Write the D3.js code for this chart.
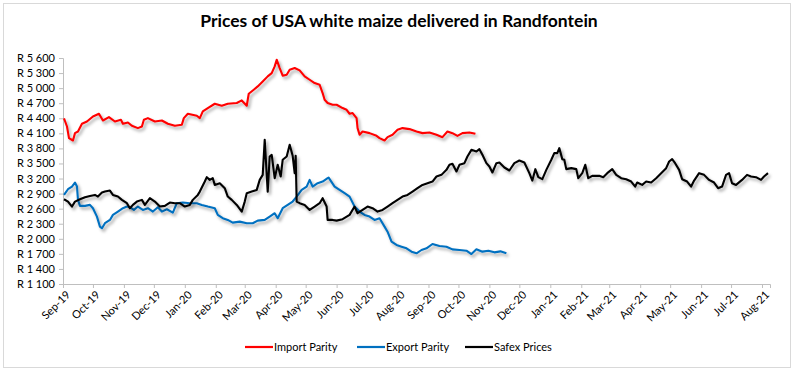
<!DOCTYPE html>
<html><head><meta charset="utf-8">
<script src="https://cdn.jsdelivr.net/npm/d3@7"></script>
<style>
html,body{margin:0;padding:0;background:#fff;}
text{font-family:Lato,"Open Sans",sans-serif;}
</style></head>
<body>
<svg id="chart" width="798" height="375"></svg>
<script>
const title = "Prices of USA white maize delivered in Randfontein";
const seriesNames = ["Import Parity", "Export Parity", "Safex Prices"];
const seriesColors = ["#FF0000", "#0070C0", "#000000"];
const yTicks = [1100,1400,1700,2000,2300,2600,2900,3200,3500,3800,4100,4400,4700,5000,5300,5600];

const importParity = [
["2019-09-02",4398],["2019-09-05",4236],["2019-09-07",4005],["2019-09-11",3957],["2019-09-13",4104],
["2019-09-16",4136],["2019-09-20",4290],["2019-09-25",4336],["2019-10-01",4436],["2019-10-07",4490],
["2019-10-11",4356],["2019-10-17",4423],["2019-10-23",4336],["2019-10-29",4370],["2019-10-31",4290],
["2019-11-05",4316],["2019-11-09",4250],["2019-11-15",4204],["2019-11-19",4236],["2019-11-21",4370],
["2019-11-25",4403],["2019-12-02",4336],["2019-12-09",4356],["2019-12-15",4290],["2019-12-22",4250],
["2019-12-29",4270],["2019-12-31",4403],["2020-01-04",4490],["2020-01-13",4450],["2020-01-16",4403],
["2020-01-19",4536],["2020-01-24",4603],["2020-01-31",4689],["2020-02-07",4649],["2020-02-13",4689],
["2020-02-22",4703],["2020-02-27",4755],["2020-03-03",4649],["2020-03-05",4888],["2020-03-10",4968],
["2020-03-14",5034],["2020-03-19",5134],["2020-03-24",5234],["2020-03-28",5300],["2020-03-31",5433],
["2020-04-02",5566],["2020-04-05",5400],["2020-04-08",5247],["2020-04-12",5267],["2020-04-15",5367],
["2020-04-20",5400],["2020-04-25",5353],["2020-04-30",5234],["2020-05-05",5167],["2020-05-10",5101],
["2020-05-15",5067],["2020-05-18",4902],["2020-05-20",4768],["2020-05-23",4703],["2020-05-28",4669],
["2020-06-01",4669],["2020-06-07",4603],["2020-06-11",4569],["2020-06-14",4490],["2020-06-17",4503],
["2020-06-21",4403],["2020-06-22",4204],["2020-06-24",4071],["2020-06-27",4136],["2020-07-04",4104],
["2020-07-11",4050],["2020-07-14",4005],["2020-07-19",3957],["2020-07-22",4024],["2020-07-27",4071],
["2020-08-01",4170],["2020-08-06",4204],["2020-08-13",4184],["2020-08-20",4136],["2020-08-26",4104],
["2020-09-02",4117],["2020-09-09",4071],["2020-09-15",4024],["2020-09-20",4136],["2020-09-25",4104],
["2020-09-30",4050],["2020-10-05",4104],["2020-10-12",4117],["2020-10-18",4090]
];

const exportParity = [
["2019-09-02",2874],["2019-09-06",2987],["2019-09-10",3040],["2019-09-13",3120],["2019-09-15",3040],
["2019-09-16",2774],["2019-09-18",2655],["2019-09-23",2655],["2019-09-28",2675],["2019-10-01",2609],
["2019-10-05",2441],["2019-10-08",2242],["2019-10-10",2210],["2019-10-13",2310],["2019-10-18",2376],
["2019-10-21",2476],["2019-10-26",2542],["2019-10-31",2609],["2019-11-04",2642],["2019-11-07",2629],
["2019-11-11",2575],["2019-11-15",2642],["2019-11-20",2575],["2019-11-25",2609],["2019-11-30",2542],
["2019-12-05",2629],["2019-12-09",2542],["2019-12-14",2589],["2019-12-20",2522],["2019-12-24",2709],
["2019-12-30",2722],["2020-01-06",2709],["2020-01-13",2709],["2020-01-18",2675],["2020-01-24",2642],
["2020-01-31",2609],["2020-02-03",2476],["2020-02-08",2410],["2020-02-13",2376],["2020-02-18",2322],
["2020-02-25",2342],["2020-03-03",2310],["2020-03-09",2310],["2020-03-14",2362],["2020-03-21",2376],
["2020-03-26",2442],["2020-03-31",2509],["2020-04-03",2410],["2020-04-08",2609],["2020-04-13",2675],
["2020-04-18",2742],["2020-04-22",2840],["2020-04-27",2974],["2020-05-02",3040],["2020-05-05",3173],
["2020-05-08",3040],["2020-05-13",3107],["2020-05-18",3140],["2020-05-23",3207],["2020-05-24",3219],
["2020-05-30",3040],["2020-06-04",2974],["2020-06-09",2908],["2020-06-14",2840],["2020-06-19",2642],
["2020-06-24",2542],["2020-06-29",2476],["2020-07-04",2442],["2020-07-09",2376],["2020-07-14",2410],
["2020-07-19",2242],["2020-07-22",2142],["2020-07-26",1943],["2020-07-31",1877],["2020-08-05",1843],
["2020-08-10",1810],["2020-08-15",1744],["2020-08-20",1711],["2020-08-25",1777],["2020-08-30",1810],
["2020-09-05",1896],["2020-09-12",1856],["2020-09-19",1843],["2020-09-25",1790],["2020-10-02",1777],
["2020-10-09",1763],["2020-10-14",1697],["2020-10-19",1790],["2020-10-25",1744],["2020-10-31",1763],
["2020-11-06",1730],["2020-11-12",1750],["2020-11-18",1710]
];

const safexPrices = [
["2019-09-02",2788],["2019-09-06",2741],["2019-09-10",2642],["2019-09-13",2741],["2019-09-18",2788],
["2019-09-23",2828],["2019-09-28",2854],["2019-10-03",2874],["2019-10-06",2841],["2019-10-10",2920],
["2019-10-13",2940],["2019-10-18",2960],["2019-10-21",2874],["2019-10-26",2841],["2019-10-30",2775],
["2019-11-04",2709],["2019-11-07",2609],["2019-11-10",2675],["2019-11-14",2741],["2019-11-19",2775],
["2019-11-22",2675],["2019-11-27",2808],["2019-12-02",2741],["2019-12-07",2642],["2019-12-12",2655],
["2019-12-17",2722],["2019-12-22",2709],["2019-12-27",2709],["2020-01-01",2642],["2020-01-06",2675],
["2020-01-09",2775],["2020-01-14",2874],["2020-01-16",2940],["2020-01-21",3140],["2020-01-23",3227],
["2020-01-26",3173],["2020-01-29",3207],["2020-01-31",3073],["2020-02-05",3107],["2020-02-10",3007],
["2020-02-13",2841],["2020-02-17",2775],["2020-02-22",2675],["2020-02-27",2542],["2020-03-01",2741],
["2020-03-03",2908],["2020-03-08",2940],["2020-03-13",2974],["2020-03-16",3173],["2020-03-19",3273],
["2020-03-21",3971],["2020-03-24",2940],["2020-03-26",3638],["2020-03-28",3672],["2020-03-31",3207],
["2020-04-03",3473],["2020-04-06",3240],["2020-04-08",3573],["2020-04-12",3638],["2020-04-15",3871],
["2020-04-18",3652],["2020-04-20",3307],["2020-04-21",3652],["2020-04-22",2741],["2020-04-25",2709],
["2020-04-30",2675],["2020-05-05",2575],["2020-05-10",2642],["2020-05-15",2709],["2020-05-18",2808],
["2020-05-22",2642],["2020-05-23",2376],["2020-05-28",2376],["2020-06-01",2362],["2020-06-07",2390],
["2020-06-14",2476],["2020-06-19",2642],["2020-06-22",2509],["2020-06-27",2575],["2020-07-02",2642],
["2020-07-07",2609],["2020-07-12",2542],["2020-07-17",2575],["2020-07-22",2642],["2020-07-27",2709],
["2020-08-01",2775],["2020-08-06",2841],["2020-08-11",2874],["2020-08-16",2940],["2020-08-21",3007],
["2020-08-26",3073],["2020-08-31",3107],["2020-09-05",3140],["2020-09-09",3240],["2020-09-14",3273],
["2020-09-19",3373],["2020-09-22",3473],["2020-09-25",3493],["2020-09-29",3340],["2020-10-02",3473],
["2020-10-07",3506],["2020-10-10",3638],["2020-10-14",3771],["2020-10-19",3738],["2020-10-22",3785],
["2020-10-25",3672],["2020-10-29",3506],["2020-11-01",3440],["2020-11-04",3320],["2020-11-08",3506],
["2020-11-11",3519],["2020-11-16",3420],["2020-11-21",3360],["2020-11-26",3506],["2020-12-01",3559],
["2020-12-06",3519],["2020-12-11",3307],["2020-12-14",3160],["2020-12-17",3387],["2020-12-20",3227],
["2020-12-24",3187],["2020-12-28",3373],["2021-01-02",3573],["2021-01-05",3706],["2021-01-08",3706],
["2021-01-10",3805],["2021-01-13",3586],["2021-01-15",3573],["2021-01-17",3387],["2021-01-22",3407],
["2021-01-27",3387],["2021-01-29",3207],["2021-02-02",3307],["2021-02-05",3473],["2021-02-08",3207],
["2021-02-12",3253],["2021-02-19",3253],["2021-02-23",3227],["2021-02-27",3307],["2021-03-04",3387],
["2021-03-08",3273],["2021-03-13",3207],["2021-03-18",3187],["2021-03-23",3140],["2021-03-27",3040],
["2021-03-29",3120],["2021-04-03",3073],["2021-04-07",3140],["2021-04-12",3120],["2021-04-17",3207],
["2021-04-22",3307],["2021-04-27",3407],["2021-04-30",3539],["2021-05-03",3586],["2021-05-06",3506],
["2021-05-10",3373],["2021-05-13",3187],["2021-05-18",3140],["2021-05-22",3040],["2021-05-25",3160],
["2021-05-30",3307],["2021-06-04",3273],["2021-06-09",3173],["2021-06-14",3120],["2021-06-18",3007],
["2021-06-22",3040],["2021-06-26",3273],["2021-06-29",3307],["2021-07-02",3107],["2021-07-06",3073],
["2021-07-12",3173],["2021-07-17",3273],["2021-07-21",3240],["2021-07-26",3227],["2021-07-31",3173],
["2021-08-03",3240],["2021-08-07",3307]
];

const parse = d3.timeParse("%Y-%m-%d");
const allSeries = [importParity, exportParity, safexPrices].map((s, i) => ({
  name: seriesNames[i], color: seriesColors[i],
  values: s.map(d => ({date: parse(d[0]), value: d[1]}))
}));

const svg = d3.select("#chart");
const W = 798, H = 375;
const m = {left: 63, right: 28, top: 58, bottom: 91};

svg.append("rect").attr("x", 3.5).attr("y", 3.5).attr("width", 787).attr("height", 364)
  .attr("fill", "#fff").attr("stroke", "#D9D9D9").attr("stroke-width", 1);

const defs = svg.append("defs");
const f = defs.append("filter").attr("id", "shadow").attr("x", "-5%").attr("y", "-20%").attr("width", "110%").attr("height", "140%");
f.append("feDropShadow").attr("dx", 2).attr("dy", 2.5).attr("stdDeviation", 1.5)
  .attr("flood-color", "#000").attr("flood-opacity", 0.35);

const x = d3.scaleTime()
  .domain([parse("2019-09-01"), parse("2021-08-09")])
  .range([m.left, W - m.right]);
const y = d3.scaleLinear().domain([1100, 5600]).range([H - m.bottom, m.top]);

const fmtR = v => "R " + d3.format(",")(v).replace(/,/g, " ");

const yAxis = svg.append("g").attr("transform", `translate(${m.left},0)`)
  .call(d3.axisLeft(y).tickValues(yTicks).tickFormat(fmtR).tickSize(4).tickPadding(4));
yAxis.selectAll("text").attr("font-size", 11).attr("fill", "#000");

const xAxis = svg.append("g").attr("transform", `translate(0,${H - m.bottom})`)
  .call(d3.axisBottom(x).ticks(d3.timeMonth.every(1)).tickFormat(d3.timeFormat("%b-%y")).tickSize(4));
xAxis.selectAll("text").attr("font-size", 11).attr("fill", "#000")
  .attr("text-anchor", "end").attr("transform", "translate(2,3) rotate(-45)").attr("dy", "0.35em").attr("dx", "-0.2em").attr("y", 6);
[yAxis, xAxis].forEach(a => {
  a.select(".domain").attr("stroke", "#BFBFBF");
  a.selectAll(".tick line").attr("stroke", "#BFBFBF");
});

const line = d3.line().x(d => x(d.date)).y(d => y(d.value)).curve(d3.curveLinear);
svg.append("g").selectAll("path").data(allSeries).join("path")
  .attr("d", d => line(d.values))
  .attr("fill", "none").attr("stroke", d => d.color).attr("stroke-width", 2.1)
  .attr("stroke-linejoin", "round").attr("filter", "url(#shadow)");

svg.append("text").attr("x", 399).attr("y", 27).attr("text-anchor", "middle")
  .attr("font-size", 17.5).attr("font-weight", "bold").attr("fill", "#000").text(title);

const legendX = [245, 357, 465];
const lg = svg.append("g");
allSeries.forEach((s, i) => {
  lg.append("line").attr("x1", legendX[i]).attr("x2", legendX[i] + 28)
    .attr("y1", 347).attr("y2", 347).attr("stroke", s.color).attr("stroke-width", 2.2);
  lg.append("text").attr("x", legendX[i] + 29).attr("y", 347).attr("dy", "0.35em")
    .attr("font-size", 11).attr("fill", "#000").text(s.name);
});
</script>
</body></html>
